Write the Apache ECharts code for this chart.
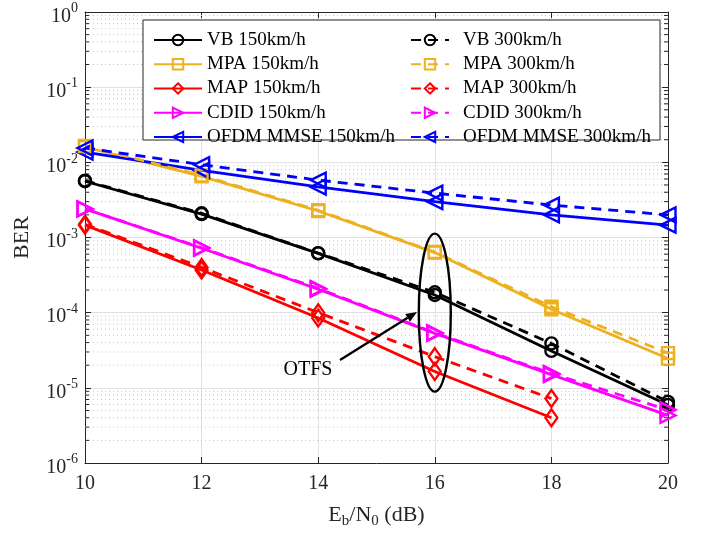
<!DOCTYPE html>
<html><head><meta charset="utf-8">
<script src="https://cdn.jsdelivr.net/npm/echarts@6/dist/echarts.min.js"></script>
<style>html,body{margin:0;padding:0;background:#fff}#c{width:707px;height:535px}</style>
</head><body><div id="c"></div>
<script>
const snr = [10, 12, 14, 16, 18, 20];
const vb150 = [5.6e-3, 2.05e-3, 6.15e-4, 1.72e-4, 3.1e-5, 5.9e-6];
const vb300 = [5.7e-3, 2.1e-3, 6.2e-4, 1.87e-4, 3.9e-5, 6.5e-6];
const mpa150 = [1.6e-2, 6.5e-3, 2.25e-3, 6.3e-4, 1.11e-4, 2.45e-5];
const mpa300 = [1.65e-2, 6.7e-3, 2.3e-3, 6.4e-4, 1.2e-4, 2.9e-5];
const map150 = [1.46e-3, 3.7e-4, 8.5e-5, 1.65e-5, 4.0e-6];
const map300 = [1.5e-3, 4.0e-4, 1.0e-4, 2.6e-5, 7.2e-6];
const cdid150 = [2.4e-3, 7.2e-4, 2.05e-4, 5.3e-5, 1.5e-5, 4.3e-6];
const cdid300 = [2.4e-3, 7.3e-4, 2.1e-4, 5.4e-5, 1.55e-5, 5.1e-6];
const ofdm150 = [1.37e-2, 7.8e-3, 4.7e-3, 3.0e-3, 2.0e-3, 1.46e-3];
const ofdm300 = [1.55e-2, 9.3e-3, 5.8e-3, 3.9e-3, 2.7e-3, 2.0e-3];
const names150 = ['VB 150km/h','MPA 150km/h','MAP 150km/h','CDID 150km/h','OFDM MMSE 150km/h'];
const names300 = ['VB 300km/h','MPA 300km/h','MAP 300km/h','CDID 300km/h','OFDM MMSE 300km/h'];

const FONT = 'Liberation Serif';
const AX = '#262626';
const minorVals = [];
for (let e = -6; e < 0; e++) for (let m = 2; m <= 9; m++) minorVals.push(m * Math.pow(10, e));

function pairs(arr){ return arr.map((v,i)=>[snr[i], v]); }
function mk(name, data, color, symbol, size, rot, dashed){
  return {
    name, type:'line', data: pairs(data), xAxisIndex:0, yAxisIndex:0,
    symbol, symbolSize:size, symbolRotate:rot, showAllSymbol:true,
    lineStyle:{color, width:2.8, type: dashed ? [10,7] : 'solid'},
    itemStyle:{color:'rgba(255,255,255,0)', borderColor:color, borderWidth:2.4},
    emphasis:{disabled:true}, z:3
  };
}
const series = [
  mk(names150[0], vb150, '#000000', 'circle', 12, 0, false),
  mk(names150[1], mpa150, '#EDB120', 'rect', 12, 0, false),
  mk(names150[2], map150, '#FF0000', 'diamond', [12,17], 0, false),
  mk(names150[3], cdid150, '#FF00FF', 'triangle', 15, -90, false),
  mk(names150[4], ofdm150, '#0000FF', 'triangle', 15, 90, false),
  mk(names300[0], vb300, '#000000', 'circle', 12, 0, true),
  mk(names300[1], mpa300, '#EDB120', 'rect', 12, 0, true),
  mk(names300[2], map300, '#FF0000', 'diamond', [12,17], 0, true),
  mk(names300[3], cdid300, '#FF00FF', 'triangle', 15, -90, true),
  mk(names300[4], ofdm300, '#0000FF', 'triangle', 15, 90, true),
  {
    type:'custom', name:'minor', silent:true, z:1, xAxisIndex:0, yAxisIndex:0,
    data: minorVals.map(v=>[10, v]),
    renderItem(params, api){
      const y = api.coord([10, api.value(1)])[1];
      const cs = params.coordSys;
      return {type:'group', children:[
        {type:'line', shape:{x1:cs.x, y1:y, x2:cs.x+cs.width, y2:y}, style:{stroke:'#c4c4c4', lineWidth:1, lineDash:[1,3]}},
        {type:'line', shape:{x1:cs.x, y1:y, x2:cs.x+4, y2:y}, style:{stroke:AX, lineWidth:1}},
        {type:'line', shape:{x1:cs.x+cs.width-4, y1:y, x2:cs.x+cs.width, y2:y}, style:{stroke:AX, lineWidth:1}}
      ]};
    }
  }
];

const supLabel = v => '{b|10}{s|' + Math.round(Math.log10(v)) + '}';
const chart = echarts.init(document.getElementById('c'), null, {renderer:'canvas'});
const legendCommon = {
  orient:'vertical', selectedMode:false, itemHeight:13, itemGap:5.25,
  textStyle:{fontFamily:FONT, fontSize:19, color:'#000', lineHeight:18}, z:10
};
chart.setOption({
  animation:false,
  backgroundColor:'#fff',
  grid:{left:85, right:39, top:12, bottom:72},
  xAxis:[
    {type:'value', min:10, max:20, interval:2, position:'bottom',
     axisLine:{lineStyle:{color:AX, width:1}},
     axisTick:{inside:true, length:6, lineStyle:{color:AX}},
     axisLabel:{fontFamily:FONT, fontSize:20, color:AX, margin:11},
     splitLine:{show:true, lineStyle:{color:'#e0e0e0', width:1}},
     name:'{n|E}{s|b}{n|/N}{s|0}{n| (dB)}', nameLocation:'middle', nameGap:38,
     nameTextStyle:{fontFamily:FONT, fontSize:22, color:AX,
       rich:{n:{fontFamily:FONT, fontSize:22, color:AX}, s:{fontFamily:FONT, fontSize:15, color:AX, padding:[13,0,0,0]}}}},
    {type:'value', min:10, max:20, interval:2, position:'top',
     axisLine:{lineStyle:{color:AX, width:1}},
     axisTick:{inside:true, length:6, lineStyle:{color:AX}},
     axisLabel:{show:false}, splitLine:{show:false}}
  ],
  yAxis:[
    {type:'log', logBase:10, min:1e-6, max:1, position:'left',
     axisLine:{show:true, lineStyle:{color:AX, width:1}},
     axisTick:{show:true, inside:true, length:6, lineStyle:{color:AX}},
     axisLabel:{formatter:supLabel, margin:7, padding:[9,0,0,0],
       rich:{b:{fontFamily:FONT, fontSize:20, color:AX}, s:{fontFamily:FONT, fontSize:14, color:AX, padding:[0,0,16,0]}}},
     splitLine:{show:true, lineStyle:{color:'#e0e0e0', width:1}},
     name:'BER', nameLocation:'middle', nameGap:52,
     nameTextStyle:{fontFamily:FONT, fontSize:22, color:AX}},
    {type:'log', logBase:10, min:1e-6, max:1, position:'right',
     axisLine:{show:true, lineStyle:{color:AX, width:1}},
     axisTick:{show:true, inside:true, length:6, lineStyle:{color:AX}},
     axisLabel:{show:false}, splitLine:{show:false}}
  ],
  legend:[
    Object.assign({}, legendCommon, {data:names150, left:148, top:25.5, itemWidth:48}),
    Object.assign({}, legendCommon, {data:names300, left:405, top:25.5, itemWidth:38,
      textStyle:Object.assign({}, legendCommon.textStyle, {padding:[0,0,0,9]})})
  ],
  series
});

// annotations
const g = chart.convertToPixel({gridIndex:0}, [16, 1e-4]);
const ax0 = 340, ay0 = 360, ax1 = 417, ay1 = 312;
const dx = ax1-ax0, dy = ay1-ay0, L = Math.hypot(dx,dy), ux = dx/L, uy = dy/L;
const hl = 11, hw = 4.5;
const bx = ax1 - ux*hl, by = ay1 - uy*hl;
chart.setOption({graphic:[
  {type:'rect', shape:{x:143, y:20, width:517, height:120}, style:{fill:'#fff', stroke:AX, lineWidth:1}, z:5, silent:true},
  {type:'ellipse', shape:{cx:g[0], cy:g[1], rx:16, ry:79}, style:{fill:null, stroke:'#000', lineWidth:2.4}, z:20, silent:true},
  {type:'line', shape:{x1:ax0, y1:ay0, x2:bx, y2:by}, style:{stroke:'#000', lineWidth:2.4}, z:20, silent:true},
  {type:'polygon', shape:{points:[[ax1,ay1],[bx - uy*hw, by + ux*hw],[bx + uy*hw, by - ux*hw]]}, style:{fill:'#000'}, z:20, silent:true},
  {type:'text', style:{x:308, y:370, text:'OTFS', font:'20px "Liberation Serif"', fill:'#000', textAlign:'center', textVerticalAlign:'middle'}, z:20, silent:true}
]});
</script></body></html>
